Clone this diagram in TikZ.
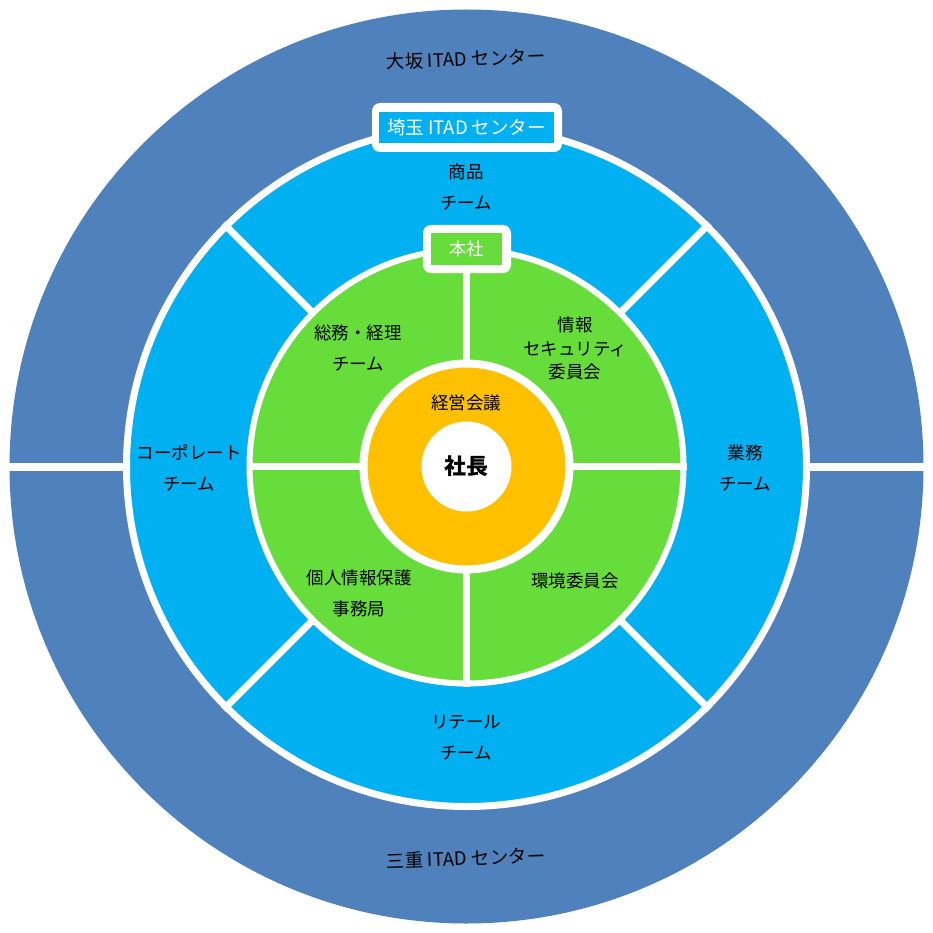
\documentclass[tikz,border=0pt]{standalone}
\usepackage{fontspec}
\setmainfont{Noto Sans CJK JP}
\definecolor{outerblue}{RGB}{79,129,189}
\definecolor{skyblue}{RGB}{0,176,240}
\definecolor{leafgreen}{RGB}{102,221,59}
\definecolor{amber}{RGB}{255,192,0}
\begin{document}
\begin{tikzpicture}[x=1pt,y=-1pt,
  lbl/.style={font=\fontsize{17.5}{31}\selectfont, align=center, text=black, inner sep=0pt},
  itad/.style={font=\fontsize{18.5}{20}\selectfont, text=black, inner sep=0pt},
  ring/.style={circle, inner sep=0pt},
  divider/.style={white, line width=7pt},
  frame/.style={fill=white, rounded corners=8pt, inner sep=0pt},
  tag/.style={inner sep=0pt, text=white, font=\fontsize{18.5}{20}\selectfont}]
\useasboundingbox[fill=white] (0,0) rectangle (933,933);
\coordinate (c) at (466.5,466.5);
% outer ring
\node[ring, fill=outerblue, minimum size=914pt] (osaka) at (c) {};
\draw[white, line width=8pt] (osaka.west) -- (osaka.east);
% blue ring
\node[ring, fill=skyblue, draw=white, line width=7pt, minimum size=680pt] (saitama) at (c) {};
\draw[divider] (saitama.45) -- (saitama.225);
\draw[divider] (saitama.135) -- (saitama.315);
% green ring
\node[ring, fill=leafgreen, draw=white, line width=6pt, minimum size=434pt] (honsha) at (c) {};
\draw[divider] (honsha.north) -- (honsha.south);
\draw[divider] (honsha.west) -- (honsha.east);
% orange ring
\node[ring, fill=amber, draw=white, line width=8pt, minimum size=206pt] (kaigi) at (c) {};
\node[ring, fill=white, minimum size=90pt, font=\fontsize{22}{24}\selectfont\bfseries] (shacho) at (c) {社長};
% tags
\node[frame, minimum width=190pt, minimum height=49pt] (saitamaframe) at (467,127.5) {};
\node[tag, fill=skyblue, minimum width=175pt, minimum height=31pt] (saitamatag) at (466.5,127.5) {埼玉 ITAD センター};
\node[frame, minimum width=88pt, minimum height=48pt] (honshaframe) at (467,249) {};
\node[tag, fill=leafgreen, minimum width=71pt, minimum height=32pt, font=\fontsize{17.5}{20}\selectfont] (honshatag) at (466.5,249) {本社};
% labels
\node[itad, rotate=2] (osakalbl) at (466,59) {大坂 ITAD センター};
\node[itad, rotate=2] (mielbl) at (466,858) {三重 ITAD センター};
\node[lbl] (shohin) at (466,187.5) {商品\\チーム};
\node[lbl] (gyomu) at (745,467.5) {業務\\チーム};
\node[lbl] (corp) at (189,468) {コーポレート\\チーム};
\node[lbl] (retail) at (466,738) {リテール\\チーム};
\node[lbl] (somu) at (358,348) {総務・経理\\チーム};
\node[lbl, font=\fontsize{17.5}{23.5}\selectfont] (joho) at (575,348.5) {情報\\セキュリティ\\委員会};
\node[lbl] (kojin) at (359,593.5) {個人情報保護\\事務局};
\node[lbl] (kankyo) at (575,581) {環境委員会};
\node[lbl] (kaigilbl) at (466,403) {経営会議};
\end{tikzpicture}
\end{document}
